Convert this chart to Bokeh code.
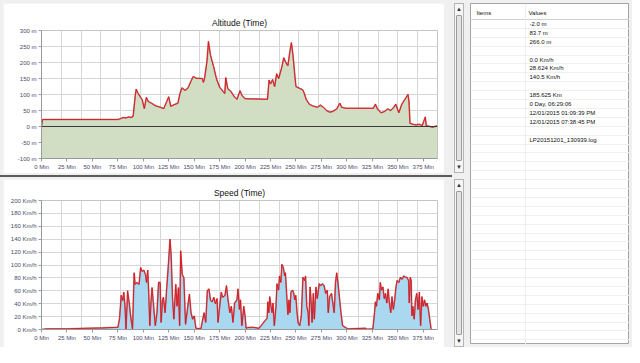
from bokeh.plotting import figure
from bokeh.layouts import column, row
from bokeh.models import Range1d, FixedTicker, PrintfTickFormatter, Span, ColumnDataSource, Div
from bokeh.core.properties import value
from bokeh.embed import file_html
from bokeh.resources import INLINE

# ---------------- data ----------------
alt_min = [0, 1, 75, 78, 80, 83, 86, 88, 90, 92,
           93, 95, 97, 99, 101, 103, 105, 108, 112, 116,
           120, 123, 125, 127, 130, 134, 136, 138, 141, 144,
           147, 149, 152, 158, 159, 160, 162.5, 164, 166, 169,
           172, 175, 180, 181, 183, 186, 189, 192, 195, 197,
           200, 222, 223.5, 225, 227, 229, 231, 233, 236, 238,
           240, 242, 244, 245.5, 247, 249, 250, 253, 256.5, 258,
           260, 263, 266, 271, 274, 277, 280, 283, 286, 290,
           293, 295, 299, 326, 328, 330, 333.5, 337, 340, 343,
           346, 348, 351, 354, 357, 360, 361, 362, 365, 368,
           371, 374, 377, 378, 384, 388.5]
alt_m = [0, 22, 22, 25, 28, 27, 30, 28, 32, 94,
         117, 103, 93, 83, 56, 91, 78, 73, 65, 61,
         56, 78, 93, 63, 68, 73, 103, 121, 113, 121,
         143, 156, 151, 150, 138, 148, 203, 266, 223, 188,
         148, 123, 103, 153, 118, 110, 95, 85, 112, 97,
         87, 85, 145, 133, 147, 125, 165, 150, 185, 215,
         200, 190, 235, 262, 225, 155, 125, 120, 115, 105,
         85, 70, 65, 60, 67, 60, 50, 45, 47, 55,
         73, 60, 57, 57, 70, 55, 43, 47, 55, 50,
         60, 70, 43, 70, 85, 100, 80, 10, 7, 5,
         7, 3, 30, 3, -2, 2]

speed_min = [0, 5, 25, 45, 60, 75.1, 76.7, 78.3, 79.9, 80.8,
             82.1, 83.0, 84.6, 86.2, 87.8, 89.4, 91.0, 92.0, 93.6, 95.8,
             97.4, 99.0, 100.6, 102.2, 103.2, 104.4, 105.4, 106.4, 107.6, 108.6,
             110.2, 111.8, 113.4, 115.0, 116.6, 117.5, 118.8, 119.8, 121.4, 123.0,
             124.6, 126.2, 127.4, 128.7, 130.0, 131.0, 131.9, 133.2, 134.5, 135.7,
             136.7, 138.3, 139.9, 141.5, 143.7, 145.3, 146.9, 148.5, 150.1, 151.7,
             156.5, 159.7, 161.3, 162.9, 164.5, 166.1, 167.7, 169.3, 170.9, 172.5,
             173.4, 174.7, 176.6, 177.9, 180.2, 181.7, 183.3, 185.0, 186.5, 188.1,
             189.7, 192.0, 193.0, 194.5, 195.5, 196.8, 198.7, 200.0, 201.0, 202.5,
             207.3, 213.7, 221.7, 222.3, 223.3, 224.2, 225.5, 226.5, 227.4, 228.7,
             230.3, 231.3, 232.9, 233.8, 235.1, 236.1, 237.6, 238.9, 239.6, 240.8,
             242.1, 243.1, 244.0, 245.0, 246.6, 247.9, 248.8, 249.8, 251.1, 252.0,
             253.6, 255.2, 256.8, 258.4, 259.4, 260.6, 261.9, 262.6, 263.8, 264.8,
             265.8, 267.0, 268.0, 269.6, 270.9, 272.8, 274.4, 276.0, 277.6, 279.2,
             280.8, 281.7, 283.0, 284.9, 286.2, 287.5, 288.8, 290.0, 291.3, 292.6,
             294.2, 295.8, 298.3, 300.9, 318.1, 320.1, 325.5, 327.1, 328.0, 329.0,
             330.3, 331.9, 332.8, 334.1, 335.4, 336.7, 337.9, 339.2, 340.5, 341.8,
             343.1, 344.3, 345.6, 346.9, 348.2, 349.4, 351.0, 352.6, 354.2, 355.8,
             357.4, 359.0, 360.6, 361.3, 362.2, 363.2, 363.8, 364.8, 366.1, 367.3,
             368.6, 369.9, 371.2, 372.4, 373.7, 375.0, 376.3, 377.5, 378.8, 380.1,
             381.4, 382.7]
speed_kmh = [0, 1, 1, 2, 2.5, 3.5, 18, 53, 45, 58,
             36, 1, 60, 41, 18, 1, 88, 70, 73, 70,
             96, 90, 92, 85, 73, 92, 55, 6, 45, 65,
             36, 6, 26, 73, 73, 11, 45, 50, 26, 65,
             100, 140, 115, 50, 16, 45, 70, 36, 65, 6,
             122, 85, 80, 8, 36, 55, 26, 16, 21, 2,
             1, 26, 11, 60, 63, 45, 43, 50, 40, 48,
             11, 31, 58, 50, 53, 68, 46, 26, 36, 11,
             41, 46, 63, 31, 46, 6, 36, 21, 2, 3,
             3.5, 2, 18, 43, 26, 51, 36, 26, 41, 6,
             36, 71, 61, 83, 73, 101, 96, 83, 88, 56,
             23, 46, 26, 58, 61, 56, 46, 53, 26, 11,
             6, 21, 81, 76, 83, 36, 26, 6, 66, 46,
             11, 56, 16, 66, 48, 71, 68, 71, 68, 56,
             61, 26, 51, 56, 41, 26, 73, 88, 71, 51,
             26, 6, 3.5, 1, 2, 0.5, 1, 26, 43, 36,
             56, 46, 73, 61, 66, 48, 56, 41, 63, 41,
             26, 51, 31, 46, 66, 76, 73, 81, 78, 83,
             81, 81, 76, 41, 81, 76, 21, 36, 16, 46,
             56, 31, 58, 6, 51, 36, 46, 36, 41, 31,
             16, 1]

time_ticks = list(range(0, 376, 25))
alt_ticks = list(range(-100, 301, 50))
speed_ticks = list(range(0, 201, 20))
time_max = 389

table_headers = ["Items", "Values"]
table_values = ["-2.0 m", "83.7 m", "266.0 m", "",
                "0.0 Km/h", "28.624 Km/h", "140.5 Km/h", "",
                "185.625 Km", "0 Day, 06:29:06", "12/01/2015 01:09:39 PM",
                "12/01/2015 07:38:45 PM", "", "LP20151201_130939.log"]

# ---------------- style ----------------
FONT = "Liberation Sans"
RED = "#e3101a"
GREEN = "#d2dec3"
BLUE = "#a9d8f0"
GRID = "#d6d6d6"
PANEL = "#f0f0f0"


def style_chart(p, yticks, yfmt):
    p.title.align = "center"
    p.title.text_font = FONT
    p.title.text_font_size = "8.5px"
    p.title.text_font_style = "normal"
    p.title.text_color = "#111111"
    p.title.standoff = 6
    p.xaxis.ticker = FixedTicker(ticks=time_ticks)
    p.xaxis.formatter = PrintfTickFormatter(format="%d Min")
    p.yaxis.ticker = FixedTicker(ticks=yticks)
    p.yaxis.formatter = PrintfTickFormatter(format=yfmt)
    for ax in p.axis:
        ax.major_label_text_font = FONT
        ax.major_label_text_font_size = "6px"
        ax.major_label_text_color = "#4a4a6a"
        ax.axis_line_color = "#9a9a9a"
        ax.major_tick_line_color = "#9a9a9a"
        ax.major_tick_out = 3
        ax.major_tick_in = 0
        ax.minor_tick_out = 0
        ax.minor_tick_in = 0
        ax.major_label_standoff = 2
    p.xgrid.ticker = FixedTicker(ticks=[time_max * i / 20 for i in range(21)])
    p.grid.grid_line_color = GRID
    p.outline_line_color = "#c4c4c4"
    p.background_fill_color = "white"
    p.border_fill_color = "white"


# Altitude chart
top = figure(width=441, height=170, title="Altitude (Time)",
             x_range=Range1d(0, time_max), y_range=Range1d(-100, 300),
             toolbar_location=None, output_backend="svg",
             min_border_left=31, min_border_right=7, min_border_top=27, min_border_bottom=15,
             margin=(3, 0, 2, 3))
style_chart(top, alt_ticks, "%d m")
top.varea(x=alt_min, y1=-100, y2=alt_m, fill_color=GREEN)
top.add_layout(Span(location=0, dimension="width", line_color="#3a3a3a", line_width=1.2))
top.line(alt_min, alt_m, line_color="#7a1515", line_width=1.6, line_alpha=0.45)
top.line(alt_min, alt_m, line_color=RED, line_width=0.9)

sep = Div(width=452, height=2, margin=(0, 0, 2, 0),
          styles={"background-color": "#5c5c5c"})

# Speed chart
bottom = figure(width=441, height=168, title="Speed (Time)",
                x_range=Range1d(0, time_max), y_range=Range1d(0, 200),
                toolbar_location=None, output_backend="svg",
                min_border_left=38, min_border_right=7, min_border_top=21, min_border_bottom=18,
                margin=(0, 0, 0, 3))
style_chart(bottom, speed_ticks, "%d Km/h")
bottom.varea(x=speed_min, y1=0, y2=speed_kmh, fill_color=BLUE)
bottom.line(speed_min, speed_kmh, line_color="#7a1515", line_width=1.6, line_alpha=0.45)
bottom.line(speed_min, speed_kmh, line_color=RED, line_width=0.9)

left_col = column(top, sep, bottom, spacing=0)


def scrollbar(h, m):
    html = ("<div style='position:absolute;left:0;right:0;top:0;height:10px;font-size:6px;"
            "line-height:10px;text-align:center;color:#333'>&#9650;</div>"
            "<div style='position:absolute;left:1px;right:1px;top:11px;bottom:11px;"
            "background:#e4e4e4;border:1px solid #9c9c9c;border-radius:1px'></div>"
            "<div style='position:absolute;left:0;right:0;bottom:0;height:10px;font-size:6px;"
            "line-height:10px;text-align:center;color:#333'>&#9660;</div>")
    return Div(text=html, width=10, height=h, margin=m,
               styles={"background-color": "#f6f6f6", "border": "1px solid #b4b4b4",
                       "box-sizing": "border-box", "position": "relative"})


scroll_col = column(scrollbar(170, (3, 0, 6, 2)), scrollbar(168, (0, 0, 0, 2)), spacing=0)

# Info table
TW, TH = 159, 341
table = figure(width=TW, height=TH, x_range=Range1d(0, TW), y_range=Range1d(TH, 0),
               toolbar_location=None, output_backend="svg", min_border=0,
               margin=(3, 3, 3, 6))
table.axis.visible = False
table.grid.visible = False
table.background_fill_color = "white"
table.border_fill_color = "white"
table.outline_line_color = "#a4a4a4"

row_h = 8.9
first_row = 20.4
col_x = [6, 58]
header_y = 9.5
line_ys = [first_row - row_h / 2 + i * row_h for i in range(38) if first_row - row_h / 2 + i * row_h < TH]
table.hspan(y=line_ys, line_color="#efefef", line_width=1)
table.add_layout(Span(location=first_row - row_h / 2, dimension="width", line_color="#d0d0d0", line_width=1))
table.add_layout(Span(location=col_x[1] - 3, dimension="height", line_color="#eeeeee", line_width=1))

hdr = ColumnDataSource(dict(x=col_x, y=[header_y, header_y], t=table_headers))
table.text(x="x", y="y", text="t", source=hdr, text_font=value(FONT), text_font_size="6px",
           text_baseline="middle", text_color="#111111")
vals = ColumnDataSource(dict(x=[col_x[1] + 1] * len(table_values),
                             y=[first_row + i * row_h for i in range(len(table_values))],
                             t=table_values))
table.text(x="x", y="y", text="t", source=vals, text_font=value(FONT), text_font_size="6px",
           text_baseline="middle", text_color="#111111")

layout = row(left_col, scroll_col, table, spacing=0,
             styles={"background-color": PANEL})

open("out.html", "w").write(file_html(layout, INLINE))
